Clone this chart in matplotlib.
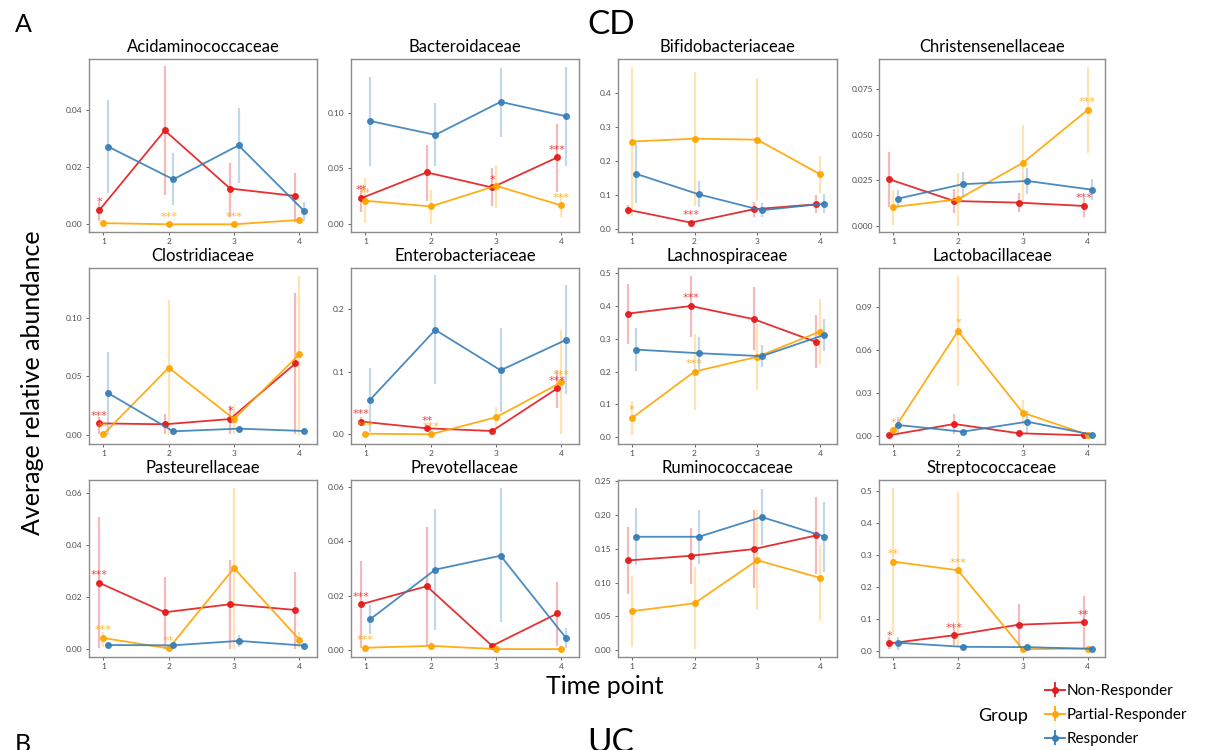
import numpy as np
import matplotlib
matplotlib.use("Agg")
import matplotlib.pyplot as plt

# --- data (mean, lower, upper) per family x time point ---
families = ['Acidaminococcaceae', 'Bacteroidaceae', 'Bifidobacteriaceae', 'Christensenellaceae',
            'Clostridiaceae', 'Enterobacteriaceae', 'Lachnospiraceae', 'Lactobacillaceae',
            'Pasteurellaceae', 'Prevotellaceae', 'Ruminococcaceae', 'Streptococcaceae']
time_points = [1, 2, 3, 4]
groups = ['Non-Responder', 'Partial-Responder', 'Responder']

nr_mean = [[0.005, 0.0328, 0.0125, 0.0099], [0.0234, 0.0464, 0.0329, 0.0599],
           [0.057, 0.0195, 0.0585, 0.073], [0.0256, 0.0137, 0.0128, 0.011],
           [0.0099, 0.0091, 0.0136, 0.061], [0.0203, 0.0096, 0.0053, 0.0736],
           [0.377, 0.40, 0.36, 0.29], [0.0005, 0.0084, 0.0019, 0.0005],
           [0.0253, 0.014, 0.0171, 0.0149], [0.0169, 0.0235, 0.0016, 0.0135],
           [0.1327, 0.1396, 0.1494, 0.1696], [0.0245, 0.05, 0.083, 0.0904]]
nr_lo = [[0.0013, 0.0103, 0.0027, 0.0009], [0.011, 0.021, 0.016, 0.029],
         [0.042, 0.014, 0.035, 0.047], [0.0106, 0.0073, 0.0079, 0.0051],
         [0.0006, 0.0006, 0.0011, 0.0006], [0.013, 0.005, 0.003, 0.0427],
         [0.285, 0.306, 0.265, 0.21], [0.0, 0.0014, 0.0005, 0.0],
         [0.0003, 0.0, 0.0, 0.0], [0.0009, 0.0016, 0.0005, 0.0016],
         [0.0838, 0.0986, 0.0922, 0.1134], [0.0085, 0.019, 0.0117, 0.0085]]
nr_hi = [[0.0079, 0.0554, 0.0216, 0.018], [0.035, 0.071, 0.050, 0.090],
         [0.071, 0.025, 0.081, 0.10], [0.0406, 0.0201, 0.0179, 0.0152],
         [0.0156, 0.0176, 0.025, 0.1207], [0.028, 0.015, 0.008, 0.103],
         [0.467, 0.493, 0.457, 0.373], [0.0015, 0.0154, 0.0035, 0.001],
         [0.0507, 0.0276, 0.034, 0.0295], [0.0327, 0.0453, 0.0028, 0.0251],
         [0.1825, 0.181, 0.207, 0.2268], [0.046, 0.0755, 0.147, 0.173]]

pr_mean = [[0.0004, 0.0, 0.0, 0.0015], [0.021, 0.0159, 0.0344, 0.0168],
           [0.2566, 0.265, 0.262, 0.161], [0.0104, 0.0146, 0.0346, 0.0636],
           [0.0006, 0.0574, 0.0136, 0.0688], [0.001, 0.0, 0.0272, 0.0832],
           [0.058, 0.20, 0.245, 0.322], [0.004, 0.0734, 0.0163, 0.0009],
           [0.0041, 0.0001, 0.031, 0.0035], [0.0009, 0.0016, 0.0004, 0.0004],
           [0.0577, 0.0695, 0.133, 0.107], [0.28, 0.253, 0.0064, 0.0085]]
pr_lo = [[0.0, 0.0, 0.0, 0.0006], [0.0015, 0.0, 0.0144, 0.0063],
         [0.039, 0.069, 0.084, 0.107], [0.0005, 0.0, 0.0139, 0.0402],
         [0.0, 0.0, 0.0006, 0.0], [0.0, 0.0, 0.0096, 0.001],
         [0.007, 0.084, 0.145, 0.224], [0.002, 0.0352, 0.0072, 0.0],
         [0.0006, 0.0, 0.0, 0.0005], [0.0, 0.0, 0.0, 0.0],
         [0.005, 0.0015, 0.0592, 0.043], [0.051, 0.014, 0.0, 0.0]]
pr_hi = [[0.0008, 0.0003, 0.0003, 0.0027], [0.041, 0.031, 0.053, 0.0234],
         [0.476, 0.461, 0.442, 0.215], [0.0198, 0.0289, 0.0554, 0.087],
         [0.0015, 0.115, 0.0256, 0.136], [0.003, 0.001, 0.0443, 0.167],
         [0.109, 0.314, 0.345, 0.421], [0.006, 0.112, 0.0252, 0.0018],
         [0.0064, 0.0003, 0.0617, 0.0065], [0.0015, 0.003, 0.0008, 0.0008],
         [0.11, 0.1223, 0.207, 0.155], [0.51, 0.498, 0.012, 0.012]]

rs_mean = [[0.0272, 0.0157, 0.0276, 0.0047], [0.0925, 0.080, 0.1096, 0.0967],
           [0.162, 0.102, 0.0556, 0.075], [0.015, 0.0229, 0.0247, 0.0199],
           [0.0358, 0.0031, 0.0054, 0.0034], [0.055, 0.167, 0.1024, 0.151],
           [0.267, 0.256, 0.247, 0.312], [0.0077, 0.003, 0.010, 0.0009],
           [0.0014, 0.0013, 0.003, 0.0012], [0.0113, 0.0296, 0.0347, 0.0045],
           [0.1677, 0.1677, 0.1968, 0.168], [0.0266, 0.0138, 0.0128, 0.0074]]
rs_lo = [[0.0108, 0.0068, 0.0146, 0.0013], [0.052, 0.052, 0.078, 0.052],
         [0.076, 0.066, 0.035, 0.049], [0.0106, 0.016, 0.0176, 0.0143],
         [0.0, 0.002, 0.004, 0.0025], [0.0043, 0.08, 0.035, 0.064],
         [0.201, 0.207, 0.214, 0.263], [0.0019, 0.002, 0.0019, 0.0003],
         [0.0008, 0.0006, 0.0006, 0.0008], [0.0061, 0.0073, 0.0104, 0.0009],
         [0.1257, 0.128, 0.155, 0.116], [0.005, 0.008, 0.007, 0.004]]
rs_hi = [[0.0435, 0.0248, 0.0406, 0.0079], [0.132, 0.109, 0.140, 0.141],
         [0.252, 0.14, 0.076, 0.103], [0.0198, 0.0298, 0.0316, 0.0256],
         [0.0705, 0.0045, 0.007, 0.0045], [0.1056, 0.255, 0.17, 0.239],
         [0.332, 0.304, 0.281, 0.36], [0.0135, 0.004, 0.0177, 0.0016],
         [0.002, 0.002, 0.0051, 0.0016], [0.0165, 0.0518, 0.0594, 0.008],
         [0.2105, 0.207, 0.238, 0.219], [0.046, 0.02, 0.018, 0.011]]

# significance stars: (family index, group index, time point, label)
stars = [(0, 0, 1, '*'), (0, 1, 2, '***'), (0, 1, 3, '***'),
         (1, 0, 1, '**'), (1, 1, 1, '**'), (1, 0, 3, '*'), (1, 0, 4, '***'), (1, 1, 4, '***'),
         (2, 0, 2, '***'),
         (3, 1, 4, '***'), (3, 0, 4, '***'),
         (4, 0, 1, '***'), (4, 1, 1, '**'), (4, 0, 3, '*'),
         (5, 0, 1, '***'), (5, 1, 1, '***'), (5, 0, 2, '**'), (5, 1, 2, '***'),
         (5, 1, 4, '***'), (5, 0, 4, '***'),
         (6, 1, 1, '*'), (6, 0, 2, '***'), (6, 1, 2, '***'),
         (7, 1, 1, '*'), (7, 1, 2, '*'),
         (8, 0, 1, '***'), (8, 1, 1, '***'), (8, 1, 2, '**'),
         (9, 0, 1, '***'), (9, 1, 1, '***'),
         (11, 0, 1, '*'), (11, 1, 1, '**'), (11, 0, 2, '***'), (11, 1, 2, '***'), (11, 0, 4, '**')]

yticks = [[0, 0.02, 0.04], [0, 0.05, 0.10], [0, 0.1, 0.2, 0.3, 0.4], [0, 0.025, 0.05, 0.075],
          [0, 0.05, 0.10], [0, 0.1, 0.2], [0, 0.1, 0.2, 0.3, 0.4, 0.5], [0, 0.03, 0.06, 0.09],
          [0, 0.02, 0.04, 0.06], [0, 0.02, 0.04, 0.06], [0, 0.05, 0.10, 0.15, 0.20, 0.25],
          [0, 0.1, 0.2, 0.3, 0.4, 0.5]]
ydec = [2, 2, 1, 3, 2, 1, 1, 2, 2, 2, 2, 1]
ylims = [(-0.0027, 0.0578), (-0.007, 0.148), (-0.008, 0.498), (-0.0033, 0.0916),
         (-0.0077, 0.1424), (-0.0155, 0.266), (-0.021, 0.516), (-0.0056, 0.1175),
         (-0.0032, 0.0649), (-0.0025, 0.0625), (-0.0099, 0.2515), (-0.018, 0.535)]

colors = ['#E41A1C', '#FFA500', '#377EB8']
dodge = [-0.06, 0.0, 0.07]

W, H = 1212, 750
fig = plt.figure(figsize=(W / 100, H / 100), dpi=100)
plt.rcParams['font.family'] = ['Lato', 'DejaVu Sans']

col_x = [(89, 317), (351, 579), (618, 837), (879, 1105)]
row_y = [(59, 232), (268, 444), (480, 657)]

means = [nr_mean, pr_mean, rs_mean]
los = [nr_lo, pr_lo, rs_lo]
his = [nr_hi, pr_hi, rs_hi]

axes = []
for i, fam in enumerate(families):
    r, c = divmod(i, 4)
    x0, x1 = col_x[c]
    y0, y1 = row_y[r]
    ax = fig.add_axes([x0 / W, 1 - y1 / H, (x1 - x0) / W, (y1 - y0) / H])
    axes.append(ax)
    for g in range(3):
        xs = np.array(time_points) + dodge[g]
        m = np.array(means[g][i])
        lo = np.array(los[g][i])
        hi = np.array(his[g][i])
        ax.vlines(xs, lo, hi, color=colors[g], alpha=0.3, lw=1.6, zorder=2)
        ax.plot(xs, m, '-o', color=colors[g], lw=1.3, ms=4, alpha=0.9, zorder=3)
    for (fi, g, t, lab) in stars:
        if fi != i:
            continue
        ax.annotate(lab, (t + dodge[g], means[g][i][t - 1]), xytext=(0, 5.5),
                    textcoords='offset points', ha='center', va='center',
                    color=colors[g], alpha=0.8, fontsize=8, family='DejaVu Sans', zorder=4)
    ax.set_xlim(0.78, 4.27)
    ax.set_ylim(*ylims[i])
    ax.set_xticks(time_points)
    ax.set_xticklabels([str(t) for t in time_points])
    ax.set_yticks(yticks[i])
    ax.set_yticklabels([f'{v:.{ydec[i]}f}' for v in yticks[i]])
    ax.tick_params(labelsize=6, colors='#4D4D4D', length=2.5, width=0.6, pad=2)
    for s in ax.spines.values():
        s.set_color('#8C8C8C')
        s.set_linewidth(1.0)
    ax.set_title(fam, fontsize=12, pad=5, color='black')

fig.text(15 / W, 1 - 25 / H, 'A', fontsize=18, va='center', ha='left')
fig.text(587 / W, 1 - 25 / H, 'CD', fontsize=24, va='center', ha='left')
fig.text(15 / W, 1 - 733 / H, 'B', fontsize=18, va='top', ha='left')
fig.text(587 / W, 1 - 728 / H, 'UC', fontsize=24, va='top', ha='left')
fig.text(33 / W, 1 - 383 / H, 'Average relative abundance', rotation=90,
         fontsize=18, va='center', ha='center')
fig.text(605 / W, 1 - 686 / H, 'Time point', fontsize=18, va='center', ha='center')

# legend proxies on a hidden axes
hax = fig.add_axes([0, 0, 0.01, 0.01])
handles = []
for g in range(3):
    h = hax.errorbar([0], [0], yerr=[1], fmt='-o', color=colors[g], ms=4, lw=1.3, label=groups[g])
    handles.append(h)
hax.set_visible(False)
fig.legend(handles, groups, loc='upper left', bbox_to_anchor=(1045 / W, 1 - 684 / H),
           frameon=False, fontsize=11, handlelength=1.3, handletextpad=0.1,
           labelspacing=0.65, borderaxespad=0, borderpad=0)
fig.text(1003 / W, 1 - 716 / H, 'Group', fontsize=13, va='center', ha='center')

fig.savefig('out.png', dpi=100)
